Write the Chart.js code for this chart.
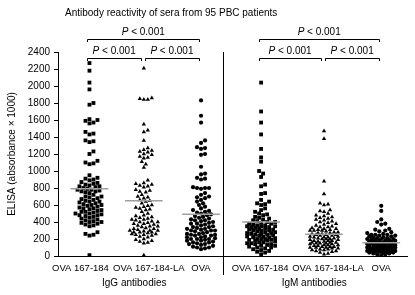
<!DOCTYPE html>
<html>
<head>
<meta charset="utf-8">
<script src="https://cdn.jsdelivr.net/npm/chart.js@4"></script>
<style>body{margin:0;background:#fff}</style>
</head>
<body>
<canvas id="elisa" width="415" height="295"></canvas>
<script>
const chartTitle = 'Antibody reactivity of sera from 95 PBC patients';
const groupLabels = ['OVA 167-184', 'OVA 167-184-LA', 'OVA', 'OVA 167-184', 'OVA 167-184-LA', 'OVA'];
const isotypeLabels = ['IgG antibodies', 'IgM antibodies'];
const yTicks = [0, 200, 400, 600, 800, 1000, 1200, 1400, 1600, 1800, 2000, 2200, 2400];
const pLabel = '< 0.001';

// ELISA (absorbance x 1000), one value per patient
const iggOva167 = [2270, 2180, 2040, 1960, 1800, 1780, 1610, 1600, 1590, 1570, 1560, 1460, 1440, 1430, 1360, 1350, 1340, 1230, 1200, 1120, 1100, 1090, 1080,
  950, 920, 910, 900, 890, 870, 860, 850, 840, 830, 820, 820, 810, 800, 790, 780, 780, 770, 760, 760, 750, 740, 720, 700, 700, 690, 680, 670, 660, 650, 640, 640,
  630, 620, 610, 600, 600, 590, 580, 570, 560, 560, 550, 540, 530, 520, 520, 510, 500, 500, 490, 480, 480, 470, 460, 450, 440, 430, 420, 410, 400, 400, 390,
  380, 370, 360, 350, 280, 260, 250, 240, 10];
const iggOva167La = [2210, 1860, 1850, 1840, 1840, 1550, 1480, 1460, 1360, 1270, 1250, 1240, 1230, 1220, 1200, 1190, 1170, 1160, 1150, 1110, 1080, 1040,
  890, 860, 850, 840, 830, 820, 810, 780, 770, 760, 750, 720, 700, 690, 680, 660, 650, 640, 620, 600, 590, 580, 570, 560, 550, 540, 520, 500, 480, 470,
  460, 450, 440, 430, 430, 420, 410, 400, 400, 390, 380, 380, 370, 360, 350, 350, 340, 330, 320, 320, 310, 300, 300, 300, 290, 280, 280, 280, 270, 260, 260,
  250, 250, 240, 230, 220, 200, 190, 180, 170, 160, 150, 10];
const iggOva = [1830, 1650, 1570, 1360, 1330, 1280, 1270, 1260, 1200, 1190, 1050, 970, 960, 920, 910, 900, 810, 800, 800, 800, 790, 740, 720, 700, 690,
  680, 660, 640, 620, 600, 580, 560, 540, 530, 520, 510, 500, 490, 480, 470, 460, 450, 440, 430, 420, 420, 410, 400, 390, 380, 380, 370, 360, 350, 340, 340,
  330, 320, 320, 310, 300, 300, 300, 290, 280, 270, 260, 260, 250, 250, 240, 240, 230, 220, 220, 210, 200, 200, 200, 190, 180, 180, 170, 160, 160, 150, 140,
  140, 130, 120, 110, 100, 100, 90, 80];
const igmOva167 = [2040, 1700, 1570, 1430, 1260, 1160, 1110, 1000, 970, 930, 840, 820, 740, 730, 660, 640, 620, 610, 600, 560, 540, 520, 500, 490, 480,
  460, 450, 440, 430, 420, 410, 400, 400, 390, 380, 380, 370, 360, 360, 350, 350, 350, 340, 340, 330, 320, 320, 310, 310, 300, 300, 300, 290, 280, 280,
  270, 270, 260, 260, 250, 250, 240, 240, 230, 230, 220, 220, 210, 200, 200, 200, 190, 190, 180, 180, 170, 160, 160, 150, 150, 140, 140, 130, 120, 120,
  110, 100, 100, 90, 80, 70, 60, 50, 40, 20];
const igmOva167La = [1470, 1380, 880, 730, 620, 610, 600, 540, 530, 520, 500, 480, 470, 460, 450, 440, 430, 420, 410, 400, 390, 380, 370, 360, 350, 340,
  340, 330, 320, 320, 310, 310, 300, 300, 300, 290, 280, 280, 270, 270, 260, 260, 250, 250, 250, 240, 240, 230, 230, 220, 220, 220, 210, 210, 200, 200, 200,
  190, 190, 180, 180, 180, 170, 170, 160, 160, 160, 150, 150, 150, 140, 140, 130, 130, 130, 120, 120, 110, 110, 110, 100, 100, 100, 90, 90, 80, 80, 70, 70,
  60, 60, 50, 40, 30, 20];
const igmOva = [590, 530, 430, 400, 380, 370, 320, 310, 300, 290, 280, 270, 260, 250, 250, 250, 240, 240, 230, 230, 220, 220, 210, 210, 200, 200, 200,
  190, 190, 190, 180, 180, 180, 170, 170, 170, 160, 160, 160, 150, 150, 150, 150, 140, 140, 140, 140, 130, 130, 130, 130, 120, 120, 120, 120, 110, 110, 110,
  110, 100, 100, 100, 100, 100, 100, 90, 90, 90, 90, 80, 80, 80, 80, 80, 70, 70, 70, 70, 60, 60, 60, 60, 60, 50, 50, 50, 50, 40, 40, 40, 30, 30, 20, 20, 10];
const meanValues = [790, 650, 490, 400, 255, 156];

const groupValues = [iggOva167, iggOva167La, iggOva, igmOva167, igmOva167La, igmOva];
const markers = ['rect', 'triangle', 'circle', 'rect', 'triangle', 'circle'];
const markerSize = { rect: 2.7, triangle: 2.5, circle: 2.1 };

// layout (x axis units, roughly 57 px each)
const groupPos = [0.55, 1.5, 2.5, 3.55, 4.65, 5.65];
const labelShift = [-9, 5, 0, -1, 4, 0];
const dividerPos = 2.885;
const pxPerX = 349 / 6.1;
const pxPerY = 204 / 2400;

// simple beeswarm, capped in width: once a row is full the point goes
// to the least crowded slot, so dense parts become a solid blob
function swarm(values, center) {
  const placed = [];
  const dist = 3.8, step = 2, maxSlots = 15;
  return values.slice().sort((a, b) => a - b).map(v => {
    const py = v * pxPerY;
    let best = 0, bestGap = -1;
    for (let i = 0; i < maxSlots; i++) {
      const off = i === 0 ? 0 : (i % 2 ? 1 : -1) * Math.ceil(i / 2) * step;
      let gap = Infinity;
      placed.forEach(p => { gap = Math.min(gap, Math.hypot(p.px - off, p.py - py)); });
      if (gap >= dist) { best = off; bestGap = gap; break; }
      if (gap > bestGap) { bestGap = gap; best = off; }
    }
    placed.push({ px: best, py: py });
    return { x: center + best / pxPerX, y: v };
  });
}

const font = 'Liberation Sans';
const datasets = [];
groupValues.forEach((vals, i) => {
  datasets.push({
    type: 'scatter',
    data: swarm(vals, groupPos[i]),
    pointStyle: markers[i],
    pointRadius: markerSize[markers[i]],
    pointBackgroundColor: '#000',
    pointBorderColor: '#000',
    pointBorderWidth: 0,
    order: 1
  });
});
meanValues.forEach((m, i) => {
  datasets.push({
    type: 'line',
    data: [{ x: groupPos[i] - 0.33, y: m }, { x: groupPos[i] + 0.33, y: m }],
    borderColor: '#a0a0a0',
    borderWidth: 1.5,
    pointRadius: 0,
    order: 0
  });
});

const decorations = {
  id: 'decorations',
  afterDraw(chart) {
    const ctx = chart.ctx;
    const xs = chart.scales.x, ys = chart.scales.y;
    const top = ys.getPixelForValue(2400);
    const bottom = chart.chartArea.bottom;
    const gx = groupPos.map(p => xs.getPixelForValue(p));
    ctx.save();
    ctx.strokeStyle = '#000';
    ctx.fillStyle = '#000';
    ctx.lineWidth = 1;

    // title
    ctx.font = '10px "' + font + '"';
    ctx.textAlign = 'left';
    ctx.textBaseline = 'middle';
    ctx.fillText(chartTitle, 65, 13);

    function bracket(x1, x2, y) {
      ctx.beginPath();
      ctx.moveTo(Math.round(x1) + 0.5, y + 3);
      ctx.lineTo(Math.round(x1) + 0.5, y + 0.5);
      ctx.lineTo(Math.round(x2) + 0.5, y + 0.5);
      ctx.lineTo(Math.round(x2) + 0.5, y + 3);
      ctx.stroke();
      ctx.font = 'italic 10px "' + font + '"';
      const wp = ctx.measureText('P ').width;
      ctx.font = '10px "' + font + '"';
      const wr = ctx.measureText(pLabel).width;
      const tx = (x1 + x2) / 2 - (wp + wr) / 2;
      ctx.textAlign = 'left';
      ctx.font = 'italic 10px "' + font + '"';
      ctx.fillText('P ', tx, y - 7);
      ctx.font = '10px "' + font + '"';
      ctx.fillText(pLabel, tx + wp, y - 7);
    }
    [0, 3].forEach(g => {
      bracket(gx[g] - 2, gx[g + 2] - 2, top - 13);
      bracket(gx[g] - 2, gx[g + 1] - 3, top + 6);
      bracket(gx[g + 1] + 1, gx[g + 2] - 2, top + 6);
    });

    // divider between IgG and IgM
    const dx = Math.round(xs.getPixelForValue(dividerPos)) + 0.5;
    ctx.beginPath();
    ctx.moveTo(dx, top);
    ctx.lineTo(dx, bottom + 19);
    ctx.stroke();

    // category labels under each column
    ctx.font = '9.5px "' + font + '"';
    ctx.textAlign = 'center';
    groupLabels.forEach((t, i) => ctx.fillText(t, gx[i] + labelShift[i], bottom + 12));

    // isotype labels
    ctx.font = '10px "' + font + '"';
    ctx.fillText(isotypeLabels[0], (gx[0] + gx[2]) / 2 - 11, 283);
    ctx.fillText(isotypeLabels[1], (gx[3] + gx[5]) / 2 - 7, 283);
    ctx.restore();
  }
};

new Chart(document.getElementById('elisa'), {
  data: { datasets: datasets },
  options: {
    responsive: false,
    animation: false,
    layout: { padding: { top: 52, right: 8, left: 0, bottom: 0 } },
    plugins: { legend: { display: false }, tooltip: { enabled: false } },
    scales: {
      x: {
        type: 'linear',
        min: 0,
        max: 6.1,
        grid: { display: false },
        border: { display: true, color: '#000', width: 1 },
        afterFit: s => { s.height = 39; },
        ticks: { display: false }
      },
      y: {
        min: 0,
        max: 2400,
        afterBuildTicks: s => { s.ticks = yTicks.map(t => ({ value: t })); },
        afterFit: s => { s.width = 58; },
        grid: { drawOnChartArea: false, drawTicks: true, tickLength: 4, color: '#000' },
        border: { display: true, color: '#000', width: 1 },
        ticks: { color: '#000', font: { family: font, size: 10 }, padding: 4, callback: v => String(v) },
        title: {
          display: true,
          text: 'ELISA (absorbance × 1000)',
          color: '#000',
          font: { family: font, size: 10 },
          padding: { top: 6, bottom: 0 }
        }
      }
    }
  },
  plugins: [decorations]
});
</script>
</body>
</html>
